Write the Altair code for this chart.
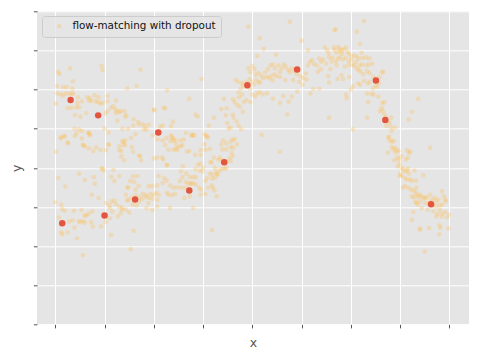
import altair as alt
import pandas as pd

# ---------------- data ----------------
LABEL = "flow-matching with dropout"

# faint samples, (x, y) pairs, grouped by region of the plot
faint_left_upper = [
    (0.06, 6.45), (0.08, 6.40), (0.30, 6.54), (0.94, 6.60), (0.96, 6.50), (1.73, 6.51),
    (0.36, 6.21), (0.04, 6.09), (0.16, 6.06), (0.23, 6.06), (0.35, 6.03), (1.65, 6.09),
    (1.46, 6.03), (2.27, 5.98),
    (0.04, 5.90), (0.11, 5.88), (0.16, 5.84), (0.21, 5.90), (0.28, 5.90), (0.33, 5.88),
    (0.36, 5.90), (0.46, 5.80), (0.65, 5.80), (0.70, 5.78), (0.80, 5.85), (0.88, 5.80),
    (1.06, 5.84), (0.01, 5.64), (0.45, 5.66), (0.54, 5.70), (0.68, 5.71), (0.73, 5.71),
    (0.82, 5.70), (0.87, 5.68), (0.92, 5.64), (0.96, 5.66), (1.06, 5.70), (1.23, 5.72),
    (0.25, 5.53), (0.33, 5.53), (0.43, 5.55), (0.48, 5.55), (0.63, 5.40), (0.40, 5.35),
    (0.51, 5.30), (1.06, 5.45), (1.13, 5.53), (1.18, 5.57), (1.22, 5.49), (1.26, 5.45),
    (1.30, 5.42), (1.33, 5.45), (1.40, 5.45), (1.44, 5.34), (1.42, 5.30), (1.26, 5.20),
    (1.02, 5.39), (1.23, 5.40), (2.00, 5.49), (2.20, 5.53), (1.59, 5.24), (1.68, 5.17),
    (2.39, 5.18), (1.58, 5.08), (1.70, 5.10), (1.77, 5.12), (1.82, 5.07), (1.90, 5.10),
    (1.80, 4.98), (1.85, 4.98), (1.48, 5.00), (1.36, 5.00), (0.39, 5.00), (0.48, 4.98),
    (0.54, 4.94), (0.68, 4.90), (0.70, 4.86), (1.00, 5.00), (1.08, 4.90), (0.11, 4.76),
    (0.19, 4.80), (0.25, 4.65), (0.56, 4.58), (0.60, 4.55), (0.83, 4.52), (1.08, 4.60),
    (1.36, 4.68), (1.42, 4.70), (1.54, 4.76), (1.63, 4.86), (1.98, 4.83), (2.08, 4.73),
    (2.18, 4.70), (2.26, 4.76), (2.35, 4.83), (2.39, 4.76), (2.43, 4.71), (2.34, 4.68),
    (2.23, 4.58), (2.13, 5.05), (2.18, 5.08), (2.35, 5.07), (2.01, 5.47), (2.23, 5.52),
    (3.48, 5.52), (3.52, 5.00), (3.56, 5.03),
]

faint_left_middle = [
    (0.01, 4.41), (0.12, 4.78), (0.18, 4.81), (0.26, 4.62), (0.40, 4.81), (0.43, 4.88),
    (0.54, 4.75), (0.57, 4.58), (0.67, 4.89), (0.70, 4.83), (0.77, 4.43), (0.92, 4.45),
    (0.96, 3.98), (1.38, 4.66), (1.42, 4.58), (1.30, 4.55), (1.55, 4.53), (1.58, 4.41),
    (1.72, 4.30), (2.00, 4.24), (2.19, 4.21), (2.26, 4.07), (2.40, 4.70), (2.47, 4.45),
    (2.36, 4.79), (2.45, 4.62), (0.68, 4.50), (1.03, 4.45), (1.08, 4.58), (1.30, 4.45),
    (1.34, 4.43), (1.38, 4.58), (1.34, 4.29), (1.40, 4.19), (1.70, 4.31), (1.74, 4.19),
    (2.07, 4.26), (2.17, 4.26), (2.27, 4.07), (2.30, 4.46), (2.40, 4.46), (2.45, 4.50),
    (2.50, 4.53),
]

faint_left_lower = [
    (0.06, 3.74), (0.20, 3.52), (0.48, 3.85), (0.60, 3.69), (0.78, 3.76), (0.80, 3.59),
    (0.94, 3.98), (0.98, 3.93), (0.74, 3.31), (0.88, 3.23), (1.18, 3.95), (1.14, 3.77),
    (1.20, 3.66), (1.30, 3.79), (1.46, 3.50), (1.48, 3.49), (1.52, 3.66), (1.60, 3.64),
    (1.63, 3.44), (1.58, 3.78), (1.67, 3.79), (1.69, 3.54), (1.43, 3.31), (1.47, 3.18),
    (1.54, 3.23), (1.63, 3.30), (1.71, 3.24), (1.77, 3.21), (1.85, 3.26), (1.77, 3.33),
    (1.83, 3.31), (1.93, 3.33), (2.00, 3.31), (2.05, 3.36), (2.10, 3.31), (1.90, 3.53),
    (1.97, 3.53), (2.07, 3.55), (2.10, 3.79), (2.21, 3.74), (2.18, 3.61), (2.26, 3.67),
    (2.27, 3.36), (2.30, 3.31), (2.37, 3.30), (2.43, 3.33), (2.47, 3.50), (2.40, 3.49),
    (2.33, 3.55), (1.90, 3.23), (1.97, 3.21), (1.89, 3.10), (2.07, 3.18), (2.07, 3.01),
    (1.97, 2.92), (1.85, 2.97), (2.33, 2.97), (1.70, 3.14), (1.65, 3.04), (1.57, 3.06),
    (1.47, 3.16), (1.43, 2.93), (1.50, 2.86), (1.59, 2.39), (1.53, 1.92), (1.14, 3.14),
    (1.20, 3.16), (1.23, 3.07), (1.30, 3.01), (1.36, 2.97), (1.33, 2.84), (1.27, 2.76),
    (1.35, 2.93), (1.03, 3.10), (1.10, 3.04), (1.11, 2.97), (1.16, 2.88), (1.11, 2.71),
    (1.02, 2.61), (0.93, 2.50), (1.13, 2.28), (0.73, 2.61), (0.76, 2.50), (0.75, 2.88),
    (0.63, 2.78), (0.59, 2.78), (0.67, 2.82), (0.48, 2.63), (0.56, 2.64), (0.51, 2.61),
    (0.60, 2.59), (0.53, 2.92), (0.38, 2.90), (0.19, 2.90), (0.12, 3.06), (0.00, 3.12),
    (0.14, 2.95), (0.07, 2.73), (0.28, 2.63), (0.35, 2.66), (0.25, 2.35), (0.12, 2.35),
    (0.14, 2.30), (0.39, 2.47), (0.44, 2.20), (0.56, 1.77),
]

faint_centre = [
    (2.54, 4.70), (2.61, 4.72), (2.76, 4.84), (2.80, 4.84), (3.07, 4.81), (3.10, 4.77),
    (2.55, 4.55), (2.58, 4.58), (2.67, 4.41), (2.72, 4.43), (2.84, 4.33), (2.95, 4.33),
    (2.95, 4.45), (3.03, 4.60), (3.05, 4.46), (3.14, 4.48), (3.37, 4.60), (3.41, 4.70),
    (3.47, 4.62), (3.56, 4.67), (3.60, 4.72), (3.64, 4.73), (3.69, 4.60), (3.39, 4.47),
    (3.47, 4.47), (3.56, 4.53), (3.61, 4.51), (3.58, 4.38), (3.60, 4.30), (3.53, 4.24),
    (3.56, 4.17), (3.47, 4.15), (3.41, 4.13), (3.38, 4.19), (3.22, 4.26), (3.15, 4.15),
    (3.17, 4.13), (3.31, 4.21), (3.34, 4.26), (3.24, 4.00), (3.27, 3.90), (3.28, 3.83),
    (3.34, 3.93), (3.39, 3.98), (3.44, 3.97), (3.47, 4.00), (3.30, 3.83), (3.24, 3.74),
    (3.20, 3.83), (3.18, 3.73), (3.14, 3.85), (3.08, 3.74), (3.05, 3.66), (3.18, 3.55),
    (3.20, 3.49), (3.23, 3.42), (3.28, 3.27), (3.10, 3.49), (3.05, 3.33), (2.95, 3.31),
    (2.96, 3.44), (2.92, 3.49), (2.85, 3.57), (2.80, 3.76), (2.73, 3.76), (2.85, 3.76),
    (2.93, 3.93), (2.99, 3.91), (2.84, 3.96), (2.59, 4.04), (2.55, 3.91), (2.58, 3.76),
    (2.66, 3.85), (2.70, 3.59), (2.76, 3.59), (2.80, 3.61), (2.63, 3.49), (2.55, 3.49),
    (2.53, 3.66), (2.62, 3.23), (2.73, 3.27), (2.74, 3.61), (2.65, 3.64), (2.80, 2.97),
    (3.18, 2.41), (4.56, 4.41), (4.19, 4.84), (2.90, 4.07), (2.94, 4.11), (3.00, 4.01),
]

faint_rise = [
    (3.92, 7.61), (4.76, 7.73), (4.15, 7.31), (4.23, 7.04), (4.10, 6.86), (4.48, 6.89),
    (2.97, 6.27), (2.72, 5.76), (2.77, 4.82), (2.82, 4.82), (2.65, 4.89), (2.85, 5.36),
    (2.89, 5.31), (3.03, 4.86), (3.07, 4.81), (3.12, 5.08), (3.22, 5.28), (3.37, 5.50),
    (3.42, 5.76), (3.46, 5.34), (3.60, 5.36), (3.62, 5.28), (3.49, 5.14), (3.68, 5.19),
    (3.72, 5.08), (3.77, 4.99), (3.61, 5.75), (3.64, 5.68), (3.69, 5.61), (3.75, 5.56),
    (3.73, 5.80), (3.79, 5.87), (3.83, 5.68), (3.88, 5.73), (3.96, 5.68), (3.81, 5.43),
    (3.72, 5.93), (3.77, 6.03), (3.81, 6.12), (3.87, 6.08), (3.66, 6.25), (3.71, 6.20),
    (3.79, 6.17), (3.88, 6.20), (3.95, 6.27), (3.98, 6.20), (4.03, 6.13), (4.08, 6.24),
    (4.13, 6.17), (4.15, 6.20), (3.92, 6.54), (3.96, 6.44), (4.00, 6.60), (4.04, 6.52),
    (4.07, 6.38), (4.13, 6.42), (4.18, 6.35), (4.22, 6.30), (4.26, 6.44), (4.29, 6.32),
    (4.34, 6.29), (4.38, 6.35), (4.41, 6.24), (4.45, 6.39), (4.49, 6.34), (3.96, 6.02),
    (4.00, 5.87), (4.06, 5.82), (4.10, 5.90), (4.15, 5.93), (4.21, 5.88), (4.30, 5.90),
    (4.42, 5.77), (4.56, 5.66), (4.63, 5.83), (4.71, 5.36), (4.74, 5.69), (4.80, 5.82),
    (4.91, 5.95), (4.42, 6.64), (4.46, 6.54), (4.53, 6.62), (4.56, 6.45), (4.60, 6.54),
    (4.64, 6.64), (4.68, 6.58), (4.73, 6.50), (4.76, 6.44), (4.80, 6.54), (4.86, 6.47),
    (4.90, 6.39), (4.94, 6.50), (4.98, 6.34), (5.03, 6.29), (5.09, 6.41), (5.13, 6.62),
    (5.17, 6.71), (5.21, 6.75), (5.25, 6.66), (5.31, 6.62), (5.33, 6.45), (4.32, 6.52),
    (4.37, 6.62), (4.56, 6.32), (4.67, 6.24), (4.83, 6.24), (4.95, 6.20), (5.02, 6.12),
    (5.10, 6.25), (5.18, 5.90), (5.24, 6.02), (5.00, 7.25), (5.13, 7.00),
]

faint_peak = [
    (6.27, 7.75), (5.67, 7.52), (6.12, 7.48), (6.19, 7.17), (6.22, 6.94),
    (5.47, 7.08), (5.52, 7.00), (5.55, 6.92), (5.66, 7.08), (5.67, 7.01), (5.71, 6.94),
    (5.76, 7.03), (5.78, 6.97), (5.82, 6.91), (5.86, 7.03), (5.90, 7.08), (5.93, 6.96),
    (5.97, 6.91), (6.01, 6.84), (6.07, 6.87), (6.12, 6.84), (6.16, 6.79), (6.24, 6.81),
    (6.31, 6.82), (6.38, 6.79), (6.44, 6.66), (5.36, 6.79), (5.40, 6.71), (5.44, 6.77),
    (5.50, 6.66), (5.56, 6.82), (5.61, 6.71), (5.63, 6.81), (5.70, 6.72), (5.74, 6.79),
    (5.78, 6.82), (5.84, 6.77), (5.90, 6.81), (5.96, 6.72), (6.01, 6.76), (6.05, 6.64),
    (6.11, 6.71), (6.18, 6.62), (6.23, 6.64), (6.31, 6.62), (6.37, 6.64), (5.39, 6.52),
    (5.59, 6.52), (5.71, 6.62), (5.88, 6.59), (5.97, 6.62), (6.07, 6.61), (6.12, 6.54),
    (6.16, 6.50), (6.20, 6.45), (6.26, 6.39), (6.33, 6.47), (6.38, 6.42), (5.54, 6.34),
    (5.56, 6.18), (5.73, 6.27), (5.81, 6.37), (5.84, 6.27), (5.97, 6.32), (6.04, 6.08),
    (6.15, 6.16), (6.19, 6.12), (6.27, 6.22), (6.35, 6.15), (6.38, 6.20), (6.46, 6.32),
    (6.49, 6.25), (6.63, 6.44), (5.36, 6.02), (5.90, 5.87), (5.92, 5.78), (6.00, 6.00),
    (6.33, 5.90), (6.42, 5.89), (6.45, 6.03), (6.50, 6.10), (6.54, 6.07), (6.57, 6.17),
    (6.46, 5.87), (6.56, 5.82), (6.35, 5.68), (6.64, 5.66), (6.68, 5.67), (6.63, 5.53),
    (6.59, 5.45), (6.65, 5.45), (6.68, 5.36), (6.72, 5.28), (6.76, 5.19), (6.79, 5.13),
    (6.72, 5.07), (6.82, 5.03), (6.83, 4.94), (6.90, 5.03), (6.78, 4.79), (6.82, 5.28),
    (7.37, 5.76), (7.24, 5.43), (7.18, 5.23), (6.04, 4.98), (5.56, 5.28), (6.33, 5.28),
    (6.66, 6.45), (6.58, 6.31), (5.69, 7.54), (5.75, 7.09), (5.82, 7.00),
]

faint_fall = [
    (6.76, 4.77), (6.79, 4.69), (6.84, 4.67), (6.87, 4.69), (6.83, 4.53), (6.86, 4.47),
    (6.90, 4.51), (6.93, 4.45), (6.97, 4.43), (6.91, 4.39), (6.75, 4.39), (6.88, 4.19),
    (6.94, 4.26), (6.98, 4.21), (7.02, 4.29), (6.99, 4.10), (6.95, 4.04), (7.03, 4.00),
    (7.06, 3.96), (7.10, 3.91), (7.14, 3.93), (7.16, 3.98), (7.18, 3.85), (7.01, 3.85),
    (7.03, 3.79), (6.99, 3.79), (7.10, 3.74), (7.14, 3.70), (7.20, 3.70), (7.24, 3.67),
    (7.32, 3.67), (7.29, 3.93), (7.47, 3.81), (7.14, 4.45), (7.18, 4.38), (7.21, 4.41),
    (7.12, 4.21), (7.16, 4.26), (7.61, 4.51), (7.06, 3.49), (7.10, 3.53), (7.17, 3.49),
    (7.22, 3.44), (7.28, 3.42), (7.33, 3.49), (7.32, 3.36), (7.24, 3.27), (7.28, 3.25),
    (7.35, 3.30), (7.37, 3.25), (7.40, 3.31), (7.44, 3.27), (7.47, 3.21), (7.51, 3.23),
    (7.54, 3.25), (7.61, 3.31), (7.65, 3.19), (7.70, 3.23), (7.74, 3.14), (7.78, 3.19),
    (7.85, 3.40), (7.89, 3.27), (7.92, 3.19), (7.93, 3.14), (7.86, 3.06), (7.81, 3.04),
    (7.74, 3.01), (7.67, 3.04), (7.58, 3.09), (7.51, 3.10), (7.40, 3.14), (7.36, 3.06),
    (7.33, 3.10), (7.44, 2.97), (7.56, 2.93), (7.67, 2.89), (7.76, 2.82), (7.81, 2.92),
    (7.86, 2.83), (7.92, 2.87), (7.99, 2.80), (7.95, 2.73), (7.85, 2.75), (7.74, 2.76),
    (7.27, 2.87), (7.24, 2.67), (7.40, 2.44), (7.59, 2.46), (7.80, 2.53), (7.80, 2.30),
    (7.82, 2.47), (7.50, 1.86), (7.31, 3.13), (7.61, 3.07), (7.62, 3.12), (7.98, 2.45),
    (7.41, 2.42),
]

# highlighted samples
red_x = [0.14, 0.31, 0.87, 1.00, 1.62, 2.09, 2.72, 3.43, 3.90, 4.91, 6.51, 6.70, 7.63]
red_y = [2.58, 5.73, 5.34, 2.78, 3.19, 4.90, 3.42, 4.14, 6.11, 6.51, 6.23, 5.22, 3.07]

x_ticks = [0, 1, 2, 3, 4, 5, 6, 7, 8]
y_ticks = [0, 1, 2, 3, 4, 5, 6, 7, 8]
x_domain = [-0.372, 8.40]
y_domain = [0, 8]

# ---------------- chart ----------------
faint = (faint_left_upper + faint_left_middle + faint_left_lower + faint_centre
         + faint_rise + faint_peak + faint_fall)
df_f = pd.DataFrame({"x": [p[0] for p in faint], "y": [p[1] for p in faint],
                     "series": LABEL})
df_r = pd.DataFrame({"x": red_x, "y": red_y})

xs = alt.Scale(domain=x_domain, nice=False, zero=False)
ys = alt.Scale(domain=y_domain, nice=False, zero=False)

common = dict(labels=False, tickSize=3.6, tickColor="#555555", tickWidth=1,
              domain=False, grid=True, gridColor="#FFFFFF", gridWidth=1,
              titleFontSize=12.5, titleColor="#555555", titleFont="DejaVu Sans",
              titleFontWeight="normal")
x_axis = alt.Axis(values=x_ticks, tickCount=len(x_ticks), title="x",
                  titlePadding=8, **common)
y_axis = alt.Axis(values=y_ticks, tickCount=len(y_ticks), title="y",
                  titlePadding=9, **common)

faint_layer = alt.Chart(df_f).mark_circle(size=22, opacity=0.32).encode(
    x=alt.X("x:Q", scale=xs, axis=x_axis),
    y=alt.Y("y:Q", scale=ys, axis=y_axis),
    color=alt.Color(
        "series:N",
        scale=alt.Scale(domain=[LABEL], range=["#FBC15E"]),
        legend=alt.Legend(
            title=None, orient="none", legendX=5, legendY=4.7,
            fillColor="rgba(229,229,229,0.8)", strokeColor="#CCCCCC",
            cornerRadius=3, padding=5, symbolType="circle", symbolSize=20,
            symbolOpacity=0.35, symbolStrokeWidth=0, symbolOffset=7,
            labelOffset=8, labelFont="DejaVu Sans", labelFontSize=10.4,
            labelColor="#111111",
        ),
    ),
)

red_layer = alt.Chart(df_r).mark_circle(size=42, opacity=0.92, color="#E24A33").encode(
    x=alt.X("x:Q", scale=xs, axis=x_axis),
    y=alt.Y("y:Q", scale=ys, axis=y_axis),
)

chart = (
    alt.layer(faint_layer, red_layer)
    .properties(
        width=432, height=313,
        autosize=alt.AutoSizeParams(type="none"),
        padding={"left": 29, "top": 3.3, "right": 3, "bottom": 28},
        background="#FFFFFF",
    )
    .configure_view(fill="#E5E5E5", strokeWidth=0)
)

chart.save("out.html", embed_options={"renderer": "svg", "actions": False})
